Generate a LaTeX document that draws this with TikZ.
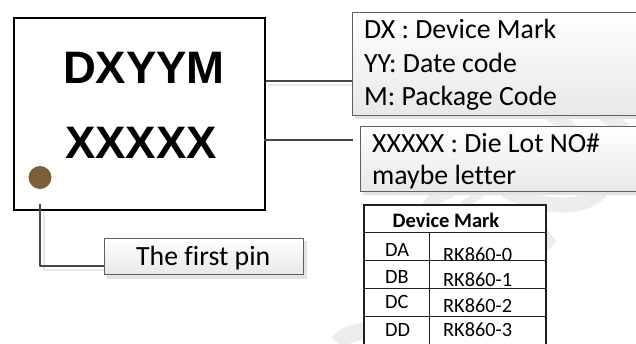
\documentclass[tikz,border=0pt]{standalone}
\usepackage{fontspec}
\setmainfont{Carlito}[Ligatures=NoCommon]
\setsansfont{Liberation Sans}
\usetikzlibrary{calc}
\definecolor{edge}{HTML}{606060}
\definecolor{wm}{HTML}{EDEDED}
\definecolor{pincol}{HTML}{7A6038}
\tikzset{
  x=1pt,y=-1pt,
  conn/.style={draw=black!72,line width=1.5pt},
  connshadow/.style={draw=black!9,line width=2pt},
  calloutbox/.style={draw=edge,line width=1pt,top color=white,bottom color=black!9},
  boxshadow/.style={fill=black!11,draw=none},
  bigmark/.style={font=\fontsize{45.5}{45.5}\selectfont\bfseries\sffamily,inner sep=0pt,anchor=base},
  labeltext/.style={font=\fontsize{27.8}{27.8}\selectfont,inner sep=0pt,anchor=base west},
  tabtext/.style={font=\fontsize{20.3}{20.3}\selectfont,inner sep=0pt,anchor=base west},
  tabhead/.style={font=\fontsize{20.5}{20.5}\selectfont\bfseries,inner sep=0pt,anchor=base},
  tabline/.style={draw=black!88,line width=1.1pt},
  watermark/.style={draw=wm,line width=15pt,line cap=butt}
}
\begin{document}
\begin{tikzpicture}
\useasboundingbox (0,0) rectangle (636,343);
\fill[white] (0,0) rectangle (636,343);
% faint watermark
\draw[watermark] (505,190) .. controls (530,205) and (585,215) .. (603,188);
\draw[watermark,line width=13pt] (425,212) .. controls (430,202) and (437,196) .. (452,190);
\draw[watermark,line width=8pt] (462,206) -- (486,190);
\draw[watermark,line width=17pt] (338,343) .. controls (343,336) and (352,332) .. (366,331);
\draw[watermark,line width=14pt] (545,110) -- (572,130);
\draw[watermark,line width=14pt] (598,110) -- (625,130);
\fill[wm] (546,228) -- (556,241) -- (546,253) -- cycle;
% main chip
\node[draw=black,line width=2pt,fill=white,minimum width=251pt,minimum height=192pt,inner sep=0pt,anchor=north west] (chip) at (12.5,17) {};
\node[bigmark] (l1) at (144,83) {DXYYM};
\node[bigmark] (l2) at (141,158) {XXXXX};
\node[circle,fill=pincol,minimum size=23pt,inner sep=0pt] (pin) at (40,177.5) {};
% callout shadows
\fill[boxshadow] (107,241) rectangle (307,278.5);
\fill[boxshadow] (355,16) rectangle (636,119);
\fill[boxshadow] (363,129) rectangle (636,195);
% callouts
\path[calloutbox,draw=none] (352,12.5) rectangle (636,115);
\draw[edge,line width=1pt] (636,12.5) -- (352,12.5) -- (352,115) -- (636,115);
\coordinate (a1) at (352,81);
\path[calloutbox,draw=none] (360,126) rectangle (636,191);
\draw[edge,line width=1pt] (636,126) -- (360,126) -- (360,191) -- (636,191);
\coordinate (a2) at (353,140);
\node[calloutbox,minimum width=199pt,minimum height=36pt,inner sep=0pt,anchor=north west] (pinbox) at (104,238) {};
\node[labeltext] (t1) at (364,38.5) {DX : Device Mark};
\node[labeltext] (t2) at (364,72) {YY: Date code};
\node[labeltext] (t3) at (364,105) {M: Package Code};
\node[labeltext] (t4) at (372,152) {XXXXX : Die Lot NO\#};
\node[labeltext] (t5) at (372,184.5) {maybe letter};
\node[labeltext] (t6) at (136,265) {The first pin};
% connectors
\coordinate (c1) at (266,81);
\coordinate (c2) at (264,140);
\coordinate (c3) at (40,204);
\coordinate (c4) at (40,266);
\coordinate (c5) at (104,266);
\draw[connshadow] (268,85) -- (352,85);
\draw[connshadow] (44,211) -- (44,270) -- (104,270);
\draw[conn] (c1) -- (a1);
\draw[conn] (c2) -- (a2);
\draw[conn,line join=round] (c3) -- (c4) -- (c5);
% table
\fill[white] (364,205) rectangle (546,343);
\begin{scope}
\clip (430,233) rectangle (546,260.5);
\node[tabtext] (r1) at (443,261.5) {RK860-0};
\end{scope}
\draw[tabline] (364,343.5) -- (364,205) -- (546,205) -- (546,343.5);
\draw[tabline] (364,232.7) -- (546,232.7);
\draw[tabline] (364,260.5) -- (546,260.5);
\draw[tabline] (364,288.7) -- (546,288.7);
\draw[tabline] (364,316.5) -- (546,316.5);
\draw[tabline] (429.5,232.7) -- (429.5,343.5);
\node[tabhead] (h) at (446,227) {Device Mark};
\node[tabtext] (d1) at (385,256) {DA};
\node[tabtext] (d2) at (385,283) {DB};
\node[tabtext] (d3) at (385,308) {DC};
\node[tabtext] (d4) at (385,336) {DD};
\node[tabtext] (r2) at (443,286) {RK860-1};
\node[tabtext] (r3) at (443,312) {RK860-2};
\node[tabtext] (r4) at (443,336) {RK860-3};
\end{tikzpicture}
\end{document}
